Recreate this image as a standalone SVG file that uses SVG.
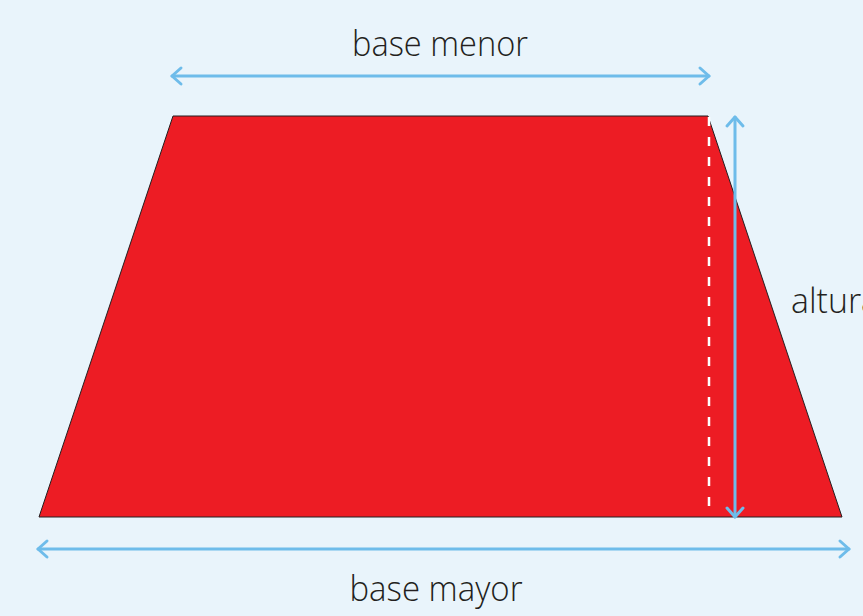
<svg xmlns="http://www.w3.org/2000/svg" width="863" height="616" viewBox="0 0 863 616">
<style>
.arr{stroke:#6ebcea;stroke-width:3;fill:none;stroke-linecap:round;stroke-linejoin:round}
.lbl{font-family:"Open Sans","Liberation Sans",sans-serif;font-weight:300;font-size:34px;fill:#231f20}
</style>
<rect width="863" height="616" fill="#e9f4fb"/>
<g id="trapecio">
<polygon points="173,116 708,116 842,517 39,517" fill="#ed1c24" stroke="#231f20" stroke-width="1"/>
<line x1="709" y1="117" x2="709" y2="517" stroke="#ffffff" stroke-width="2.5" stroke-dasharray="9,11"/>
</g>
<g id="connectors">
<line class="arr" x1="172" y1="76" x2="709" y2="76"/>
<polyline class="arr" points="181,68 172,76 181,84"/>
<polyline class="arr" points="700,68 709,76 700,84"/>
<line class="arr" x1="735" y1="117" x2="735" y2="517"/>
<polyline class="arr" points="727,126 735,117 743,126"/>
<polyline class="arr" points="727,508 735,517 743,508"/>
<line class="arr" x1="38" y1="549" x2="849" y2="549"/>
<polyline class="arr" points="47,541 38,549 47,557"/>
<polyline class="arr" points="840,541 849,549 840,557"/>
</g>
<g id="labels">
<text class="lbl" x="440" y="56" text-anchor="middle" textLength="176" lengthAdjust="spacingAndGlyphs">base menor</text>
<text class="lbl" x="436" y="601" text-anchor="middle" textLength="173" lengthAdjust="spacingAndGlyphs">base mayor</text>
<text class="lbl" x="791" y="313" textLength="88" lengthAdjust="spacingAndGlyphs">altura</text>
</g>
</svg>
